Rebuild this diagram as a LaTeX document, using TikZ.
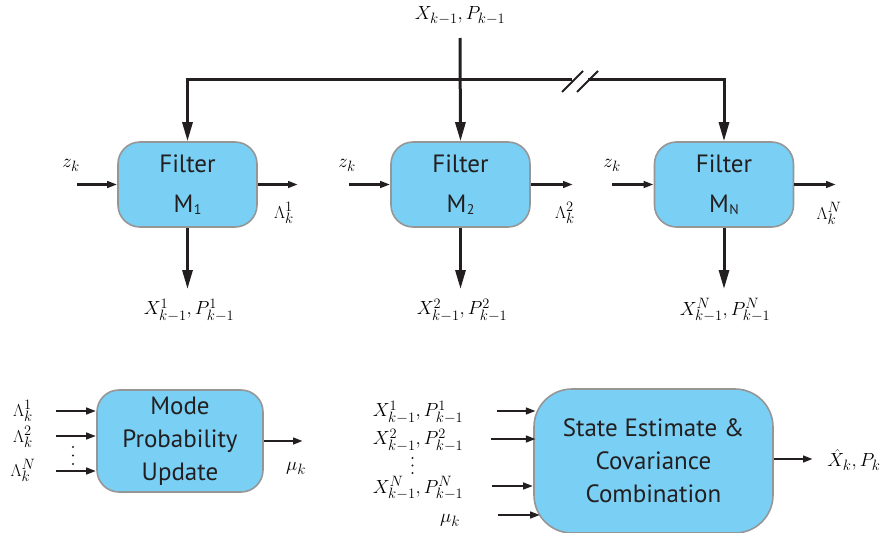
\documentclass[tikz,border=0pt]{standalone}
\usepackage{fontspec}
\newfontfamily\boxfont{PT Sans}
\usetikzlibrary{arrows.meta}
\DeclareFontShape{OML}{cmm}{m}{it}{<-8.5>cmmi7 <8.5-11>cmmi10 <11->cmmi12}{}
\DeclareFontShape{OMS}{cmsy}{m}{n}{<-8.5>cmsy7 <8.5->cmsy10}{}
\DeclareMathSizes{19}{19}{15}{11}
\definecolor{boxblue}{RGB}{121,207,244}
\definecolor{boxedge}{RGB}{150,150,150}
\definecolor{ink}{RGB}{35,31,32}
\newcommand{\subsf}[1]{\kern0.5pt\raisebox{-1.5pt}{\fontsize{14}{14}\selectfont #1}}
\begin{document}
\begin{tikzpicture}[x=1pt,y=-1pt,
  box/.style={draw=boxedge, line width=1.6pt, fill=boxblue, rounded corners=22pt,
    inner sep=0pt, align=center, text=ink, font=\boxfont\fontsize{25}{33}\selectfont},
  filterbox/.style={box, minimum width=139pt, minimum height=85pt,
    font=\boxfont\fontsize{25}{40}\selectfont},
  lbl/.style={font=\fontsize{19}{21}\selectfont, inner sep=0pt},
  bigarr/.style={draw=ink, line width=3pt, -{Triangle[length=19pt,width=10pt]}},
  smallarr/.style={draw=ink, line width=2.6pt, -{Triangle[length=10pt,width=6.5pt]}},
  slash/.style={draw=ink, line width=2pt},
  dot/.style={fill=ink}]
\useasboundingbox (0,0) rectangle (887,533);

% filter boxes
\node[filterbox] (m1) at (187.5,184.5) {Filter\\M\subsf{1}};
\node[filterbox] (m2) at (460.5,184.5) {Filter\\M\subsf{2}};
\node[filterbox] (mN) at (724,184.5) {Filter\\M\subsf{N}};

% top input
\node[lbl] (xtop) at (460,16) {$X_{k-1},P_{k-1}$};
\coordinate (tin) at (460,38);
\draw[bigarr] (tin) -- (m2.north);
\coordinate (br1) at (572,79);
\coordinate (br2) at (588,79);
\draw[bigarr] (br1) -| (m1.north);
\draw[bigarr] (br2) -| (mN.north);
\draw[slash] (562,92) -- (583,71);
\draw[slash] (577,92) -- (598,71);

% z_k inputs
\node[lbl] (zl1) at (71,165) {$z_k$};
\node[lbl] (zl2) at (347,165) {$z_k$};
\node[lbl] (zl3) at (612,165) {$z_k$};
\coordinate (z1) at (77,184.5);
\coordinate (z2) at (349,184.5);
\coordinate (z3) at (612,184.5);
\draw[smallarr] (z1) -- (m1.west);
\draw[smallarr] (z2) -- (m2.west);
\draw[smallarr] (z3) -- (mN.west);

% Lambda outputs
\coordinate (o1) at (298,184.5);
\coordinate (o2) at (573,184.5);
\coordinate (o3) at (836,184.5);
\draw[smallarr] (m1.east) -- (o1);
\draw[smallarr] (m2.east) -- (o2);
\draw[smallarr] (mN.east) -- (o3);
\node[lbl] (ll1) at (284,213) {$\Lambda_k^1$};
\node[lbl] (ll2) at (565,213) {$\Lambda_k^2$};
\node[lbl] (ll3) at (829,213) {$\Lambda_k^N$};

% state outputs
\coordinate (d1) at (187.5,289);
\coordinate (d2) at (460.5,289);
\coordinate (d3) at (724,289);
\draw[bigarr] (m1.south) -- (d1);
\draw[bigarr] (m2.south) -- (d2);
\draw[bigarr] (mN.south) -- (d3);
\node[lbl] (xl1) at (189,310) {$X_{k-1}^1,P_{k-1}^1$};
\node[lbl] (xl2) at (462,310) {$X_{k-1}^2,P_{k-1}^2$};
\node[lbl] (xl3) at (725,310) {$X_{k-1}^N,P_{k-1}^N$};

% mode probability update
\node[box, minimum width=166pt, minimum height=102pt] (mpu) at (180,441) {Mode\\Probability\\Update};
\node[lbl] (la1) at (23,411) {$\Lambda_k^1$};
\node[lbl] (la2) at (23,437) {$\Lambda_k^2$};
\node[lbl] (la3) at (23,470) {$\Lambda_k^N$};
\fill[dot] (73,447) circle (1.2pt) (73,455.5) circle (1.2pt) (73,464) circle (1.2pt);
\coordinate (a1) at (56,411);
\coordinate (a2) at (56,436);
\coordinate (a3) at (56,471);
\draw[smallarr] (a1) -- (a1 -| mpu.west);
\draw[smallarr] (a2) -- (a2 -| mpu.west);
\draw[smallarr] (a3) -- (a3 -| mpu.west);
\coordinate (mo) at (303,441);
\draw[smallarr] (mpu.east) -- (mo);
\node[lbl] (mul) at (296,468) {$\mu_k$};

% state estimate & covariance combination
\node[box, rounded corners=38pt, minimum width=239pt, minimum height=144pt] (seb) at (653.5,461) {State Estimate \&\\Covariance\\Combination};
\path[use as bounding box] (0,0) rectangle (887,533);
\node[lbl] (sl1) at (418,412) {$X_{k-1}^1,P_{k-1}^1$};
\node[lbl] (sl2) at (418,440) {$X_{k-1}^2,P_{k-1}^2$};
\node[lbl] (sl3) at (418,488) {$X_{k-1}^N,P_{k-1}^N$};
\fill[dot] (412.5,458) circle (1.2pt) (412.5,465.5) circle (1.2pt) (412.5,473) circle (1.2pt);
\node[lbl] (sl4) at (450,520) {$\mu_k$};
\coordinate (s1) at (497,411);
\coordinate (s2) at (491,439);
\coordinate (s3) at (492,486);
\coordinate (s4) at (498,515);
\draw[smallarr, shorten >=-2.7pt] (s1) -- (s1 -| seb.west);
\draw[smallarr, shorten >=-2.7pt] (s2) -- (s2 -| seb.west);
\draw[smallarr] (s3) -- (s3 -| seb.west);
\draw[smallarr, shorten >=-7pt] (s4) -- (s4 -| seb.west);
\coordinate (so) at (813,459);
\draw[smallarr] (seb.east |- so) -- (so);
\node[lbl] (xh) at (854,460) {$\hat{X}_k,P_k$};
\end{tikzpicture}
\end{document}
